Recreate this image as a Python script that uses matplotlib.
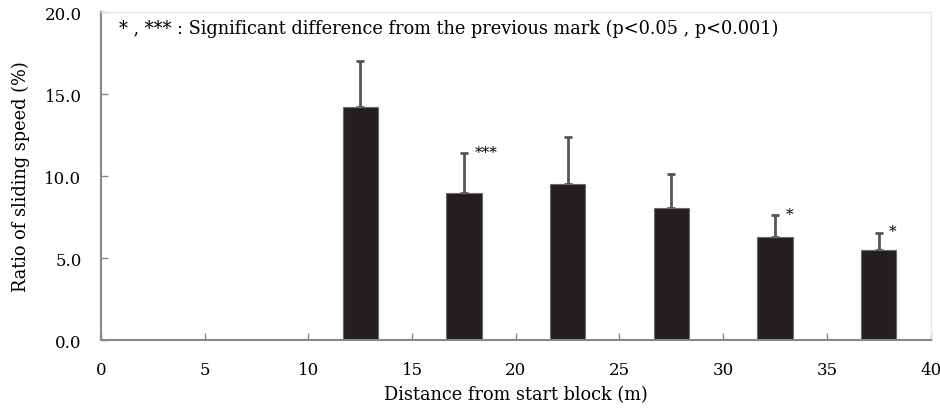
import matplotlib
matplotlib.use("Agg")
import matplotlib.pyplot as plt

# data
distance = [12.5, 17.5, 22.5, 27.5, 32.5, 37.5]
ratio = [14.2, 8.95, 9.5, 8.05, 6.3, 5.5]
sd = [2.8, 2.45, 2.9, 2.1, 1.3, 1.05]
marks = ["", "***", "", "", "*", "*"]

plt.rcParams["font.family"] = ["DejaVu Serif"]

fig = plt.figure(figsize=(9.4, 4.1), dpi=100)
ax = fig.add_axes([0.1074, 0.168, 0.8826, 0.8])

ax.bar(distance, ratio, width=1.7, color="#231f20", edgecolor="#6a6a6a",
       linewidth=0.8, zorder=2)
ax.errorbar(distance, ratio, yerr=[[0] * len(sd), sd], fmt="none",
            ecolor="#555555", elinewidth=2, capsize=3, capthick=2, zorder=1)

for x, y, s, m in zip(distance, ratio, sd, marks):
    if m:
        ax.text(x + 0.5, y + s + 0.1, m, fontsize=11, ha="left", va="center")

ax.text(0.85, 19.05, "* , *** : Significant difference from the previous mark (p<0.05 , p<0.001)",
        fontsize=12.8, va="center")

ax.set_xlim(0, 40)
ax.set_ylim(0, 20)
ax.set_xticks(range(0, 41, 5))
ax.set_yticks([0, 5, 10, 15, 20])
ax.set_yticklabels(["0.0", "5.0", "10.0", "15.0", "20.0"])
ax.tick_params(axis="both", direction="in", length=5, width=1, color="#888888",
               labelsize=12)
ax.tick_params(axis="x", pad=15)
ax.tick_params(axis="y", pad=14)

for side in ["left", "bottom"]:
    ax.spines[side].set_color("#888888")
    ax.spines[side].set_linewidth(1.5)
for side in ["top", "right"]:
    ax.spines[side].set_color("#e6e6e6")
    ax.spines[side].set_linewidth(1)

ax.set_xlabel("Distance from start block (m)", fontsize=12.8, labelpad=5)
ax.set_ylabel("Ratio of sliding speed (%)", fontsize=12.8, labelpad=10)

fig.savefig("out.png", dpi=100)
